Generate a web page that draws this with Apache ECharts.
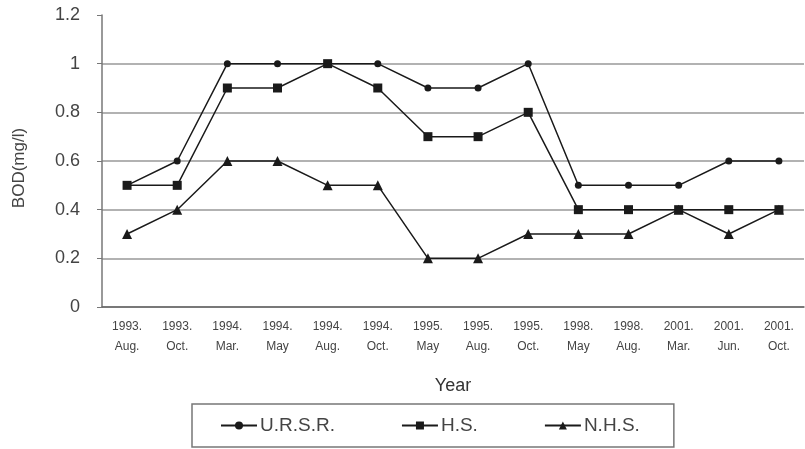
<!DOCTYPE html>
<html>
<head>
<meta charset="utf-8">
<script src="https://cdn.jsdelivr.net/npm/echarts@6/dist/echarts.min.js"></script>
<style>html,body{margin:0;padding:0;background:#fff}#c{width:805px;height:449px}</style>
</head>
<body>
<div id="c"></div>
<script>
var categories = ["1993.\nAug.","1993.\nOct.","1994.\nMar.","1994.\nMay","1994.\nAug.","1994.\nOct.","1995.\nMay","1995.\nAug.","1995.\nOct.","1998.\nMay","1998.\nAug.","2001.\nMar.","2001.\nJun.","2001.\nOct."];
var ursr = [0.5,0.6,1,1,1,1,0.9,0.9,1,0.5,0.5,0.5,0.6,0.6];
var hs   = [0.5,0.5,0.9,0.9,1,0.9,0.7,0.7,0.8,0.4,0.4,0.4,0.4,0.4];
var nhs  = [0.3,0.4,0.6,0.6,0.5,0.5,0.2,0.2,0.3,0.3,0.3,0.4,0.3,0.4];
var yTicks = ["0","0.2","0.4","0.6","0.8","1","1.2"];

var chart = echarts.init(document.getElementById('c'), null, {renderer:'canvas'});
var font = 'Liberation Sans, Arial, sans-serif';
function mk(name, data, symbol, size){
  return {
    name: name, type: 'line', data: data, symbol: symbol, symbolSize: size,
    lineStyle: {color:'#1a1a1a', width:1.5},
    itemStyle: {color:'#1a1a1a'},
    animation: false
  };
}
chart.setOption({
  animation: false,
  grid: {left:102, right:1, top:15, bottom:142, containLabel:false, outerBoundsMode:'none'},
  xAxis: {
    type:'category', data: categories, boundaryGap:true,
    name:'Year', nameLocation:'middle', nameGap:70,
    nameTextStyle:{fontFamily:font, fontSize:18, color:'#333'},
    axisLine:{lineStyle:{color:'#666', width:1.5}},
    axisTick:{inside:true, length:5, lineStyle:{color:'#666'}},
    axisLabel:{fontFamily:font, fontSize:12, color:'#444', lineHeight:20, margin:10, interval:0}
  },
  yAxis: {
    type:'value', min:0, max:1.2, interval:0.2,
    name:'BOD(mg/l)', nameLocation:'middle', nameGap:74, nameRotate:90,
    nameTextStyle:{fontFamily:font, fontSize:17, color:'#444', padding:[0,0,0,-14]},
    axisLine:{show:true, lineStyle:{color:'#777', width:1.5}},
    axisTick:{show:true, length:5, lineStyle:{color:'#777'}},
    axisLabel:{fontFamily:font, fontSize:18, color:'#444', margin:22,
      formatter:function(v){ var i=Math.round(v/0.2); return yTicks[i]; }},
    splitLine:{show:true, lineStyle:{color:['#999','#999','#999','#999','#999','#999','rgba(0,0,0,0)'], width:1.5}}
  },
  legend: {
    bottom:2, left:192,
    itemGap:66, itemWidth:36, itemHeight:10,
    padding:[12,34,12,28],
    borderColor:'#777', borderWidth:1.5,
    textStyle:{fontFamily:font, fontSize:19, color:'#444', padding:[0,0,0,-2]},
    data:['U.R.S.R.','H.S.','N.H.S.']
  },
  series: [
    mk('U.R.S.R.', ursr, 'circle', 7),
    mk('H.S.', hs, 'rect', 9),
    mk('N.H.S.', nhs, 'triangle', 10)
  ]
});
</script>
</body>
</html>
